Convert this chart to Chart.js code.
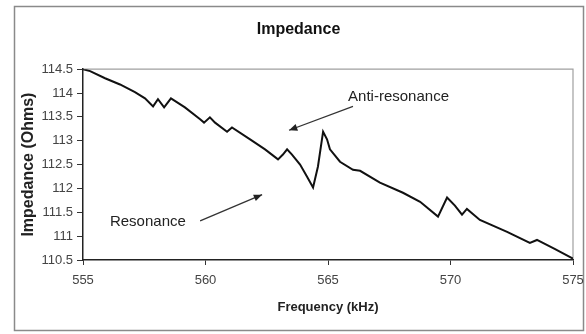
<!DOCTYPE html>
<html>
<head>
<meta charset="utf-8">
<script src="https://cdn.jsdelivr.net/npm/chart.js@4.4.1/dist/chart.umd.min.js"></script>
<style>
  html, body { margin: 0; padding: 0; background: #fff; }
  #wrap { width: 586px; height: 334px; }
</style>
</head>
<body>
<div id="wrap"><canvas id="impChart" width="586" height="334"></canvas></div>
<script>
const freq = [555.0, 555.29, 555.9, 556.51, 557.12, 557.53, 557.86, 558.06, 558.31, 558.59,
  559.16, 559.78, 559.94, 560.18, 560.39, 560.88, 561.08, 561.82, 562.43, 562.96,
  563.16, 563.33, 563.53, 563.86, 564.14, 564.39, 564.59, 564.8, 564.96, 565.08,
  565.49, 566.02, 566.31, 567.12, 568.06, 568.76, 569.49, 569.86, 570.18, 570.47,
  570.67, 571.2, 572.31, 573.24, 573.53, 574.27, 575.0];
const impedance = [114.5, 114.46, 114.31, 114.18, 114.02, 113.89, 113.72, 113.87, 113.7, 113.89,
  113.7, 113.45, 113.38, 113.49, 113.38, 113.19, 113.28, 113.03, 112.82, 112.61,
  112.71, 112.82, 112.71, 112.5, 112.25, 112.02, 112.46, 113.19, 113.03, 112.82,
  112.56, 112.39, 112.37, 112.12, 111.91, 111.72, 111.41, 111.81, 111.64, 111.45,
  111.57, 111.34, 111.09, 110.86, 110.92, 110.73, 110.53];

const xTicks = [555, 560, 565, 570, 575];
const yTicks = [110.5, 111, 111.5, 112, 112.5, 113, 113.5, 114, 114.5];

// annotation text + arrows, in data units (tail -> tip)
const notes = [
  { text: "Anti-resonance", x: 565.82, y: 113.93, from: [566.02, 113.72], to: [563.41, 113.22] },
  { text: "Resonance", x: 556.1, y: 111.3, from: [559.78, 111.32], to: [562.31, 111.87] }
];

const points = freq.map((f, i) => ({ x: f, y: impedance[i] }));

const framePlugin = {
  id: "frame",
  beforeDraw(chart) {
    const ctx = chart.ctx;
    ctx.save();
    ctx.fillStyle = "#fff";
    ctx.fillRect(0, 0, chart.width, chart.height);
    ctx.strokeStyle = "#8a8a8a";
    ctx.lineWidth = 1.5;
    ctx.strokeRect(14.5, 6.5, 569, 324);
    const a = chart.chartArea;
    ctx.strokeStyle = "#a0a0a0";
    ctx.lineWidth = 1.2;
    ctx.beginPath();
    ctx.moveTo(a.left, a.top);
    ctx.lineTo(a.right, a.top);
    ctx.lineTo(a.right, a.bottom);
    ctx.stroke();
    ctx.restore();
  },
  afterDatasetsDraw(chart) {
    const ctx = chart.ctx;
    const xs = chart.scales.x, ys = chart.scales.y;
    ctx.save();
    ctx.font = "15px 'Liberation Sans', Arial, sans-serif";
    ctx.fillStyle = "#222";
    ctx.textBaseline = "middle";
    ctx.textAlign = "left";
    notes.forEach(n => {
      ctx.fillText(n.text, xs.getPixelForValue(n.x), ys.getPixelForValue(n.y));
      const x1 = xs.getPixelForValue(n.from[0]), y1 = ys.getPixelForValue(n.from[1]);
      const x2 = xs.getPixelForValue(n.to[0]), y2 = ys.getPixelForValue(n.to[1]);
      ctx.strokeStyle = "#333";
      ctx.lineWidth = 1.3;
      ctx.beginPath();
      ctx.moveTo(x1, y1);
      ctx.lineTo(x2, y2);
      ctx.stroke();
      const ang = Math.atan2(y2 - y1, x2 - x1);
      const len = 9, w = 0.4;
      ctx.fillStyle = "#222";
      ctx.beginPath();
      ctx.moveTo(x2, y2);
      ctx.lineTo(x2 - len * Math.cos(ang - w), y2 - len * Math.sin(ang - w));
      ctx.lineTo(x2 - len * Math.cos(ang + w), y2 - len * Math.sin(ang + w));
      ctx.closePath();
      ctx.fill();
    });
    ctx.restore();
  }
};

new Chart(document.getElementById("impChart"), {
  type: "line",
  data: {
    datasets: [{
      label: "Impedance",
      data: points,
      borderColor: "#111",
      borderWidth: 2,
      pointRadius: 0,
      tension: 0,
      fill: false
    }]
  },
  options: {
    responsive: false,
    animation: false,
    layout: { padding: { left: 14, right: 3, top: 6, bottom: 4 } },
    plugins: {
      legend: { display: false },
      tooltip: { enabled: false },
      title: {
        display: true,
        text: "Impedance",
        color: "#111",
        font: { family: "'Liberation Sans', Arial, sans-serif", size: 16, weight: "bold" },
        padding: { top: 14, bottom: 30 }
      }
    },
    scales: {
      x: {
        type: "linear",
        min: 555,
        max: 575,
        afterBuildTicks: s => { s.ticks = xTicks.map(v => ({ value: v })); },
        afterFit: s => { s.height = 70; s.paddingLeft = 0; s.paddingRight = 13; },
        ticks: {
          color: "#444",
          padding: 8,
          maxRotation: 0,
          font: { family: "'Liberation Sans', Arial, sans-serif", size: 13 }
        },
        grid: { drawOnChartArea: false, tickLength: 5, color: "#333" },
        border: { color: "#222", width: 1.5 },
        title: {
          display: true,
          text: "Frequency (kHz)",
          color: "#222",
          font: { family: "'Liberation Sans', Arial, sans-serif", size: 13, weight: "bold" },
          padding: { top: 0, bottom: 15 }
        }
      },
      y: {
        min: 110.5,
        max: 114.5,
        afterBuildTicks: s => { s.ticks = yTicks.map(v => ({ value: v })); },
        afterFit: s => { s.width = 69; },
        ticks: {
          color: "#444",
          padding: 4,
          callback: v => String(v),
          font: { family: "'Liberation Sans', Arial, sans-serif", size: 13 }
        },
        grid: { drawOnChartArea: false, tickLength: 6, color: "#333" },
        border: { color: "#222", width: 1.5 },
        title: {
          display: true,
          text: "Impedance (Ohms)",
          color: "#222",
          font: { family: "'Liberation Sans', Arial, sans-serif", size: 16, weight: "bold" },
          padding: { top: 5, bottom: 0 }
        }
      }
    }
  },
  plugins: [framePlugin]
});
</script>
</body>
</html>
